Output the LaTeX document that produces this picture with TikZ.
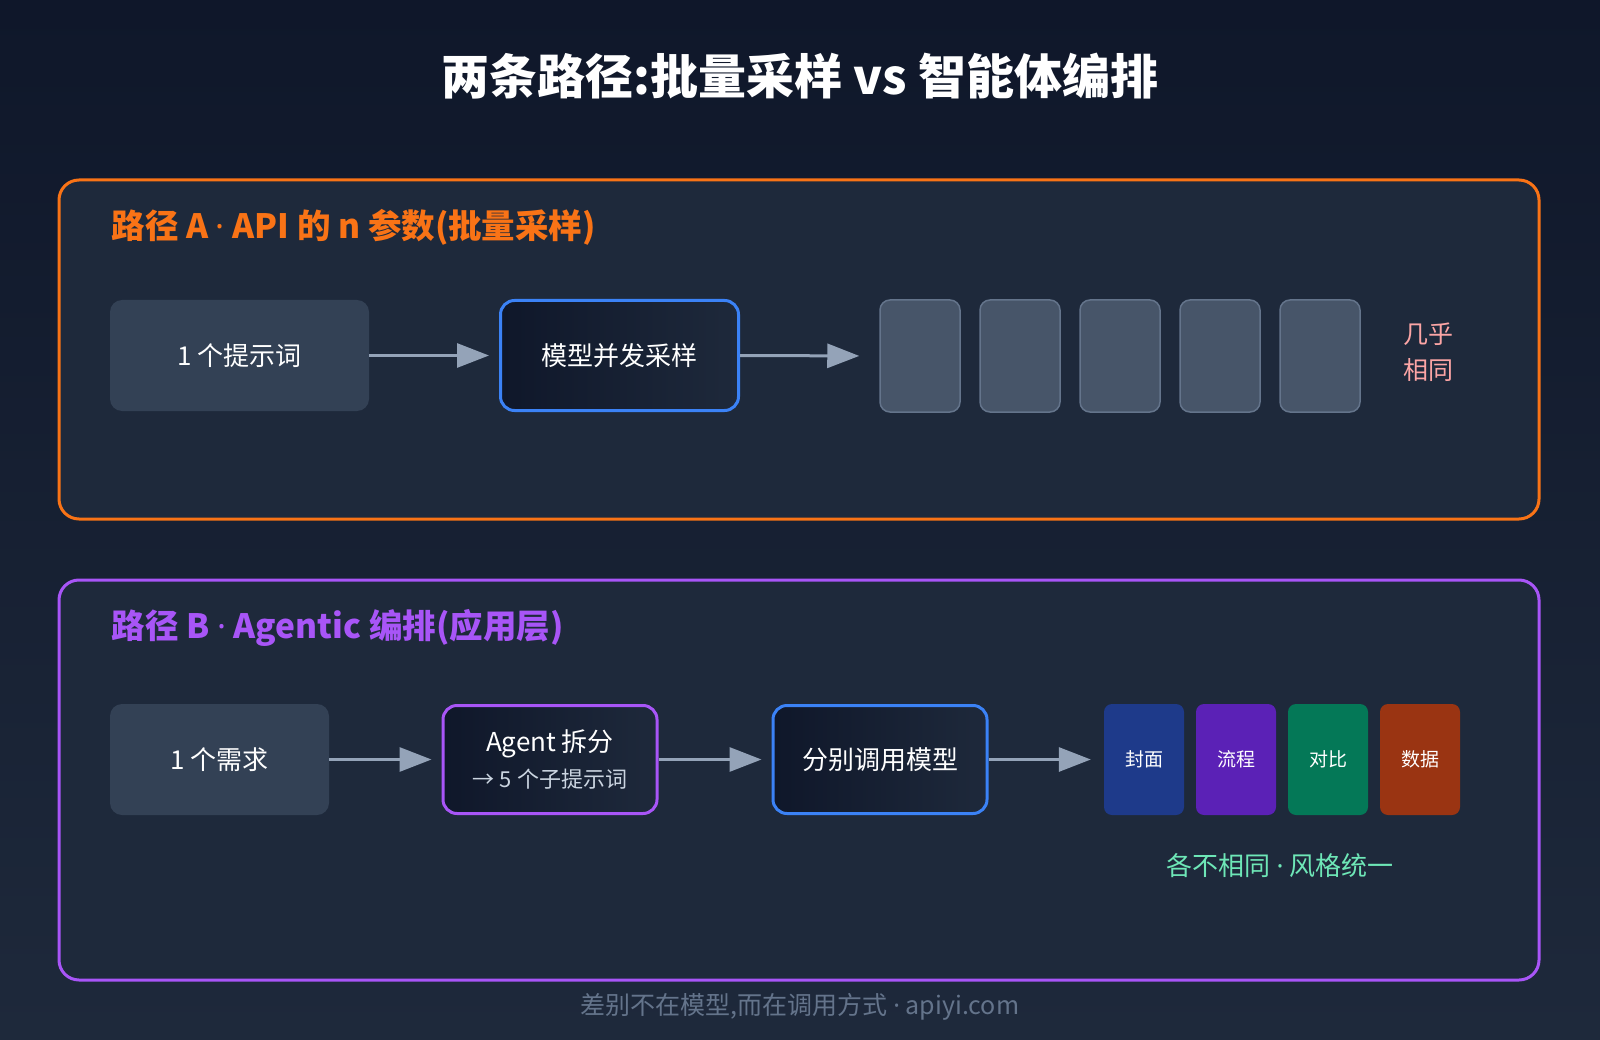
\documentclass[tikz,border=0pt]{standalone}
\usepackage{fontspec}
\setmainfont{Noto Sans CJK SC}
\newfontfamily\dotfont{Noto Sans}
\newcommand{\pdot}{{\dotfont ·}}
\usetikzlibrary{arrows.meta}

\definecolor{bgtop}{HTML}{0F172A}
\definecolor{bgbot}{HTML}{1E293B}
\definecolor{panel}{HTML}{1E293B}
\definecolor{pathA}{HTML}{F97316}
\definecolor{pathB}{HTML}{A855F7}
\definecolor{modelblue}{HTML}{3B82F6}
\definecolor{inputbox}{HTML}{334155}
\definecolor{cardfill}{HTML}{475569}
\definecolor{cardline}{HTML}{64748B}
\definecolor{flow}{HTML}{94A3B8}
\definecolor{same}{HTML}{FCA5A5}
\definecolor{diff}{HTML}{6EE7B7}
\definecolor{footer}{HTML}{64748B}
\definecolor{subtext}{HTML}{CBD5E1}
\definecolor{cover}{HTML}{1E3A8A}
\definecolor{process}{HTML}{5B21B6}
\definecolor{compare}{HTML}{047857}
\definecolor{data}{HTML}{9A3412}

\tikzset{
  inbox/.style={fill=inputbox, rounded corners=12pt, text=white,
    font=\fontsize{26pt}{30pt}\selectfont, inner sep=0pt},
  stagebox/.style={line width=3pt, rounded corners=14pt, text=white,
    left color=bgtop, right color=bgbot, align=center,
    font=\fontsize{26pt}{30pt}\selectfont, inner sep=0pt},
  samecard/.style={fill=cardfill, draw=cardline, line width=1.5pt,
    rounded corners=10pt, minimum width=80pt, minimum height=112pt},
  outcard/.style={rounded corners=8pt, minimum width=80pt, minimum height=111pt,
    text=white, font=\fontsize{19pt}{22pt}\selectfont},
  flowarrow/.style={draw=flow, line width=3pt,
    -{Triangle[length=32pt,width=24pt]}},
  pathframe/.style={line width=3pt, fill=panel, rounded corners=20pt},
  pathhead/.style={anchor=west, font=\bfseries\fontsize{33.5pt}{38pt}\selectfont},
}

\begin{document}
\begin{tikzpicture}[x=1pt, y=-1pt]

% ---- Background and title ----
\useasboundingbox (0,0) rectangle (1600,1040);
\shade[top color=bgtop, bottom color=bgbot] (0,0) rectangle (1600,1040);
\node[text=white, font=\bfseries\fontsize{48pt}{56pt}\selectfont] (title) at (800,76)
    {两条路径:批量采样 vs 智能体编排};

% ---- Path A ----
\draw[pathframe, draw=pathA] (59,180) rectangle (1539,519);
\node[pathhead, text=pathA] (headA) at (108,227)
    {路径 A \pdot{} API 的 n 参数(批量采样)};

\node[inbox, minimum width=259pt, minimum height=111pt] (promptA) at (239.5,355.5)
    {1 个提示词};
\node[stagebox, draw=modelblue, minimum width=238pt, minimum height=110pt] (sampler)
    at (619.5,355.5) {模型并发采样};

% five near-identical outputs
\foreach \i/\px in {1/920, 2/1020, 3/1120, 4/1220, 5/1320}{
    \node[samecard] (same\i) at (\px,356) {};
}
\node[anchor=west, align=left, text=same, font=\fontsize{25pt}{36pt}\selectfont] (sameNote)
    at (1400,352) {几乎\\相同};

\draw[flowarrow, shorten >=10pt] (promptA.east) -- (sampler.west);
\draw[flowarrow, shorten >=20pt] (sampler.east) -- (same1.west);

% ---- Path B ----
\draw[pathframe, draw=pathB] (59,580) rectangle (1539,980);
\node[pathhead, text=pathB] (headB) at (108,628)
    {路径 B \pdot{} Agentic 编排(应用层)};

\node[inbox, minimum width=219pt, minimum height=111pt] (request) at (219.5,759.5)
    {1 个需求};
\node[stagebox, draw=pathB, minimum width=214pt, minimum height=108pt] (agent)
    at (550,759.5)
    {Agent 拆分\\[6pt]{\color{subtext}\fontsize{22pt}{26pt}\selectfont → 5 个子提示词}};
\node[stagebox, draw=modelblue, minimum width=214pt, minimum height=108pt] (calls)
    at (880,759.5) {分别调用模型};

% four distinct outputs
\foreach \i/\px/\col/\lbl in {1/1144/cover/封面, 2/1236/process/流程,
    3/1328/compare/对比, 4/1420/data/数据}{
    \node[outcard, fill=\col] (out\i) at (\px,759.5) {\lbl};
}
\node[text=diff, font=\fontsize{26pt}{30pt}\selectfont] (diffNote) at (1280,866)
    {各不相同 \pdot{} 风格统一};

\draw[flowarrow, shorten >=10pt] (request.east) -- (agent.west);
\draw[flowarrow, shorten >=10pt] (agent.east) -- (calls.west);
\draw[flowarrow, shorten >=13pt] (calls.east) -- (out1.west);

% ---- Footer ----
\node[text=footer, font=\fontsize{25pt}{29pt}\selectfont] (foot) at (800,1007)
    {差别不在模型,而在调用方式 \pdot{} apiyi.com};

\end{tikzpicture}
\end{document}
